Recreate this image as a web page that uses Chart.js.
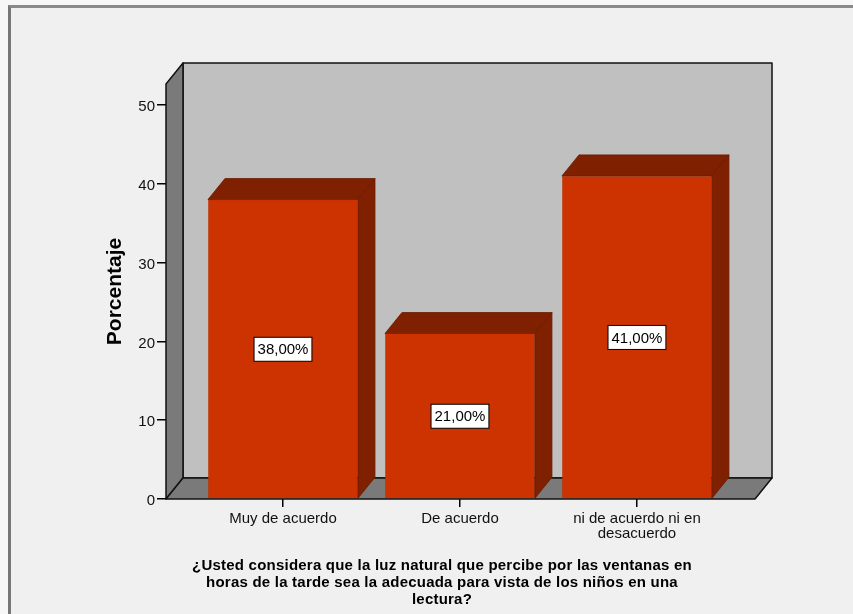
<!DOCTYPE html>
<html>
<head>
<meta charset="utf-8">
<title>Porcentaje</title>
<script src="https://cdn.jsdelivr.net/npm/chart.js@4.4.1/dist/chart.umd.min.js"></script>
<style>
  html, body { margin: 0; padding: 0; background: #f7f7f7; overflow: hidden; }
  #frame { position: absolute; left: 8px; top: 5px; width: 900px; height: 700px; background: #f0f0f0;
           border-top: 3px solid #8a8a8a; border-left: 3px solid #777; }
  #chart { position: absolute; left: 0; top: 0; }
  #question { position: absolute; left: 142px; width: 600px; top: 556px; text-align: center; color: #000;
              font: bold 15px "Liberation Sans", Arial, sans-serif; line-height: 17px; letter-spacing: 0.22px; }
</style>
</head>
<body>
<div id="frame"></div>
<canvas id="chart" width="853" height="614"></canvas>
<div id="question"></div>
<script>
const categories = [['Muy de acuerdo'], ['De acuerdo'], ['ni de acuerdo ni en', 'desacuerdo']];
const percentages = [38, 21, 41];
const yTicks = [0, 10, 20, 30, 40, 50];
const yTitle = 'Porcentaje';
const questionLines = [
  '¿Usted considera que la luz natural que percibe por las ventanas en',
  'horas de la tarde sea la adecuada para vista de los niños en una',
  'lectura?',
];

const FONT = '"Liberation Sans", Arial, sans-serif';
const DX = 17;   // 3d depth, horizontal
const DY = -21;  // 3d depth, vertical

document.getElementById('question').innerHTML = questionLines.join('<br>');

function poly(ctx, pts, fill, stroke) {
  ctx.beginPath();
  pts.forEach((p, i) => (i ? ctx.lineTo(p[0], p[1]) : ctx.moveTo(p[0], p[1])));
  ctx.closePath();
  ctx.fillStyle = fill;
  ctx.fill();
  if (stroke) {
    ctx.strokeStyle = stroke;
    ctx.stroke();
  }
}

const box3d = {
  id: 'box3d',
  beforeDatasetsDraw(chart) {
    const { ctx, chartArea: a } = chart;
    ctx.save();
    ctx.lineWidth = 1.5;
    ctx.lineJoin = 'round';
    poly(ctx, [[a.left + DX, a.top + DY], [a.right + DX, a.top + DY], [a.right + DX, a.bottom + DY], [a.left + DX, a.bottom + DY]], '#c0c0c0', '#111');
    poly(ctx, [[a.left, a.top], [a.left + DX, a.top + DY], [a.left + DX, a.bottom + DY], [a.left, a.bottom]], '#7a7a7a', '#111');
    poly(ctx, [[a.left, a.bottom], [a.left + DX, a.bottom + DY], [a.right + DX, a.bottom + DY], [a.right, a.bottom]], '#7a7a7a', '#111');
    ctx.restore();
  },
  afterDatasetsDraw(chart) {
    const { ctx } = chart;
    const yScale = chart.scales.y;
    const meta = chart.getDatasetMeta(0);
    ctx.save();
    ctx.lineWidth = 0.8;
    meta.data.forEach((bar, i) => {
      const x0 = bar.x - bar.width / 2;
      const x1 = bar.x + bar.width / 2;
      const top = bar.y;
      const base = bar.base;
      poly(ctx, [[x0, top], [x0 + DX, top + DY], [x1 + DX, top + DY], [x1, top]], '#7f2000', '#6a1a00');
      poly(ctx, [[x1, top], [x1 + DX, top + DY], [x1 + DX, base + DY], [x1, base]], '#7f2000', '#6a1a00');

      const v = percentages[i];
      const text = v.toFixed(2).replace('.', ',') + '%';
      const cy = yScale.getPixelForValue(v / 2);
      ctx.font = '15px ' + FONT;
      const w = ctx.measureText(text).width + 7;
      const h = 24;
      ctx.fillStyle = '#fff';
      ctx.fillRect(bar.x - w / 2, cy - h / 2, w, h);
      ctx.strokeStyle = '#000';
      ctx.lineWidth = 1;
      ctx.strokeRect(bar.x - w / 2, cy - h / 2, w, h);
      ctx.fillStyle = '#000';
      ctx.textAlign = 'center';
      ctx.textBaseline = 'middle';
      ctx.fillText(text, bar.x, cy + 1);
      ctx.lineWidth = 0.8;
    });
    ctx.restore();
  },
};

new Chart(document.getElementById('chart'), {
  type: 'bar',
  data: {
    datasets: [{
      data: percentages.map((v, i) => ({ x: i, y: v })),
      backgroundColor: '#cc3300',
      borderColor: '#a82a00',
      borderWidth: 0.5,
      barPercentage: 150 / 177,
      categoryPercentage: 1,
    }],
  },
  options: {
    responsive: false,
    animation: false,
    layout: { padding: { left: 103, right: 98, top: 84, bottom: 0 } },
    plugins: { legend: { display: false }, tooltip: { enabled: false } },
    scales: {
      x: {
        type: 'linear',
        min: -0.661,
        max: 2.667,
        bounds: 'data',
        offset: false,
        afterBuildTicks: (scale) => { scale.ticks = categories.map((c, i) => ({ value: i })); },
        afterFit: (scale) => { scale.height = 115; },
        border: { display: false },
        grid: { offset: false, drawOnChartArea: false, tickLength: 8, color: '#000', lineWidth: 1.5 },
        ticks: {
          padding: 4,
          color: '#111',
          font: { family: FONT, size: 15, lineHeight: 1 },
          maxRotation: 0,
          autoSkip: false,
          callback: (v) => categories[v],
        },
      },
      y: {
        min: 0,
        max: 52.66,
        afterBuildTicks: (scale) => { scale.ticks = yTicks.map((v) => ({ value: v })); },
        afterFit: (scale) => { scale.width = 63; },
        border: { display: false },
        grid: { drawOnChartArea: false, tickLength: 9, color: '#000', lineWidth: 1.5 },
        ticks: { padding: 2, labelOffset: 2, color: '#111', font: { family: FONT, size: 15 } },
        title: {
          display: true,
          text: yTitle,
          color: '#000',
          padding: 0,
          font: { family: FONT, size: 21, weight: 'bold', lineHeight: 1.2 },
        },
      },
    },
  },
  plugins: [box3d],
});
</script>
</body>
</html>
